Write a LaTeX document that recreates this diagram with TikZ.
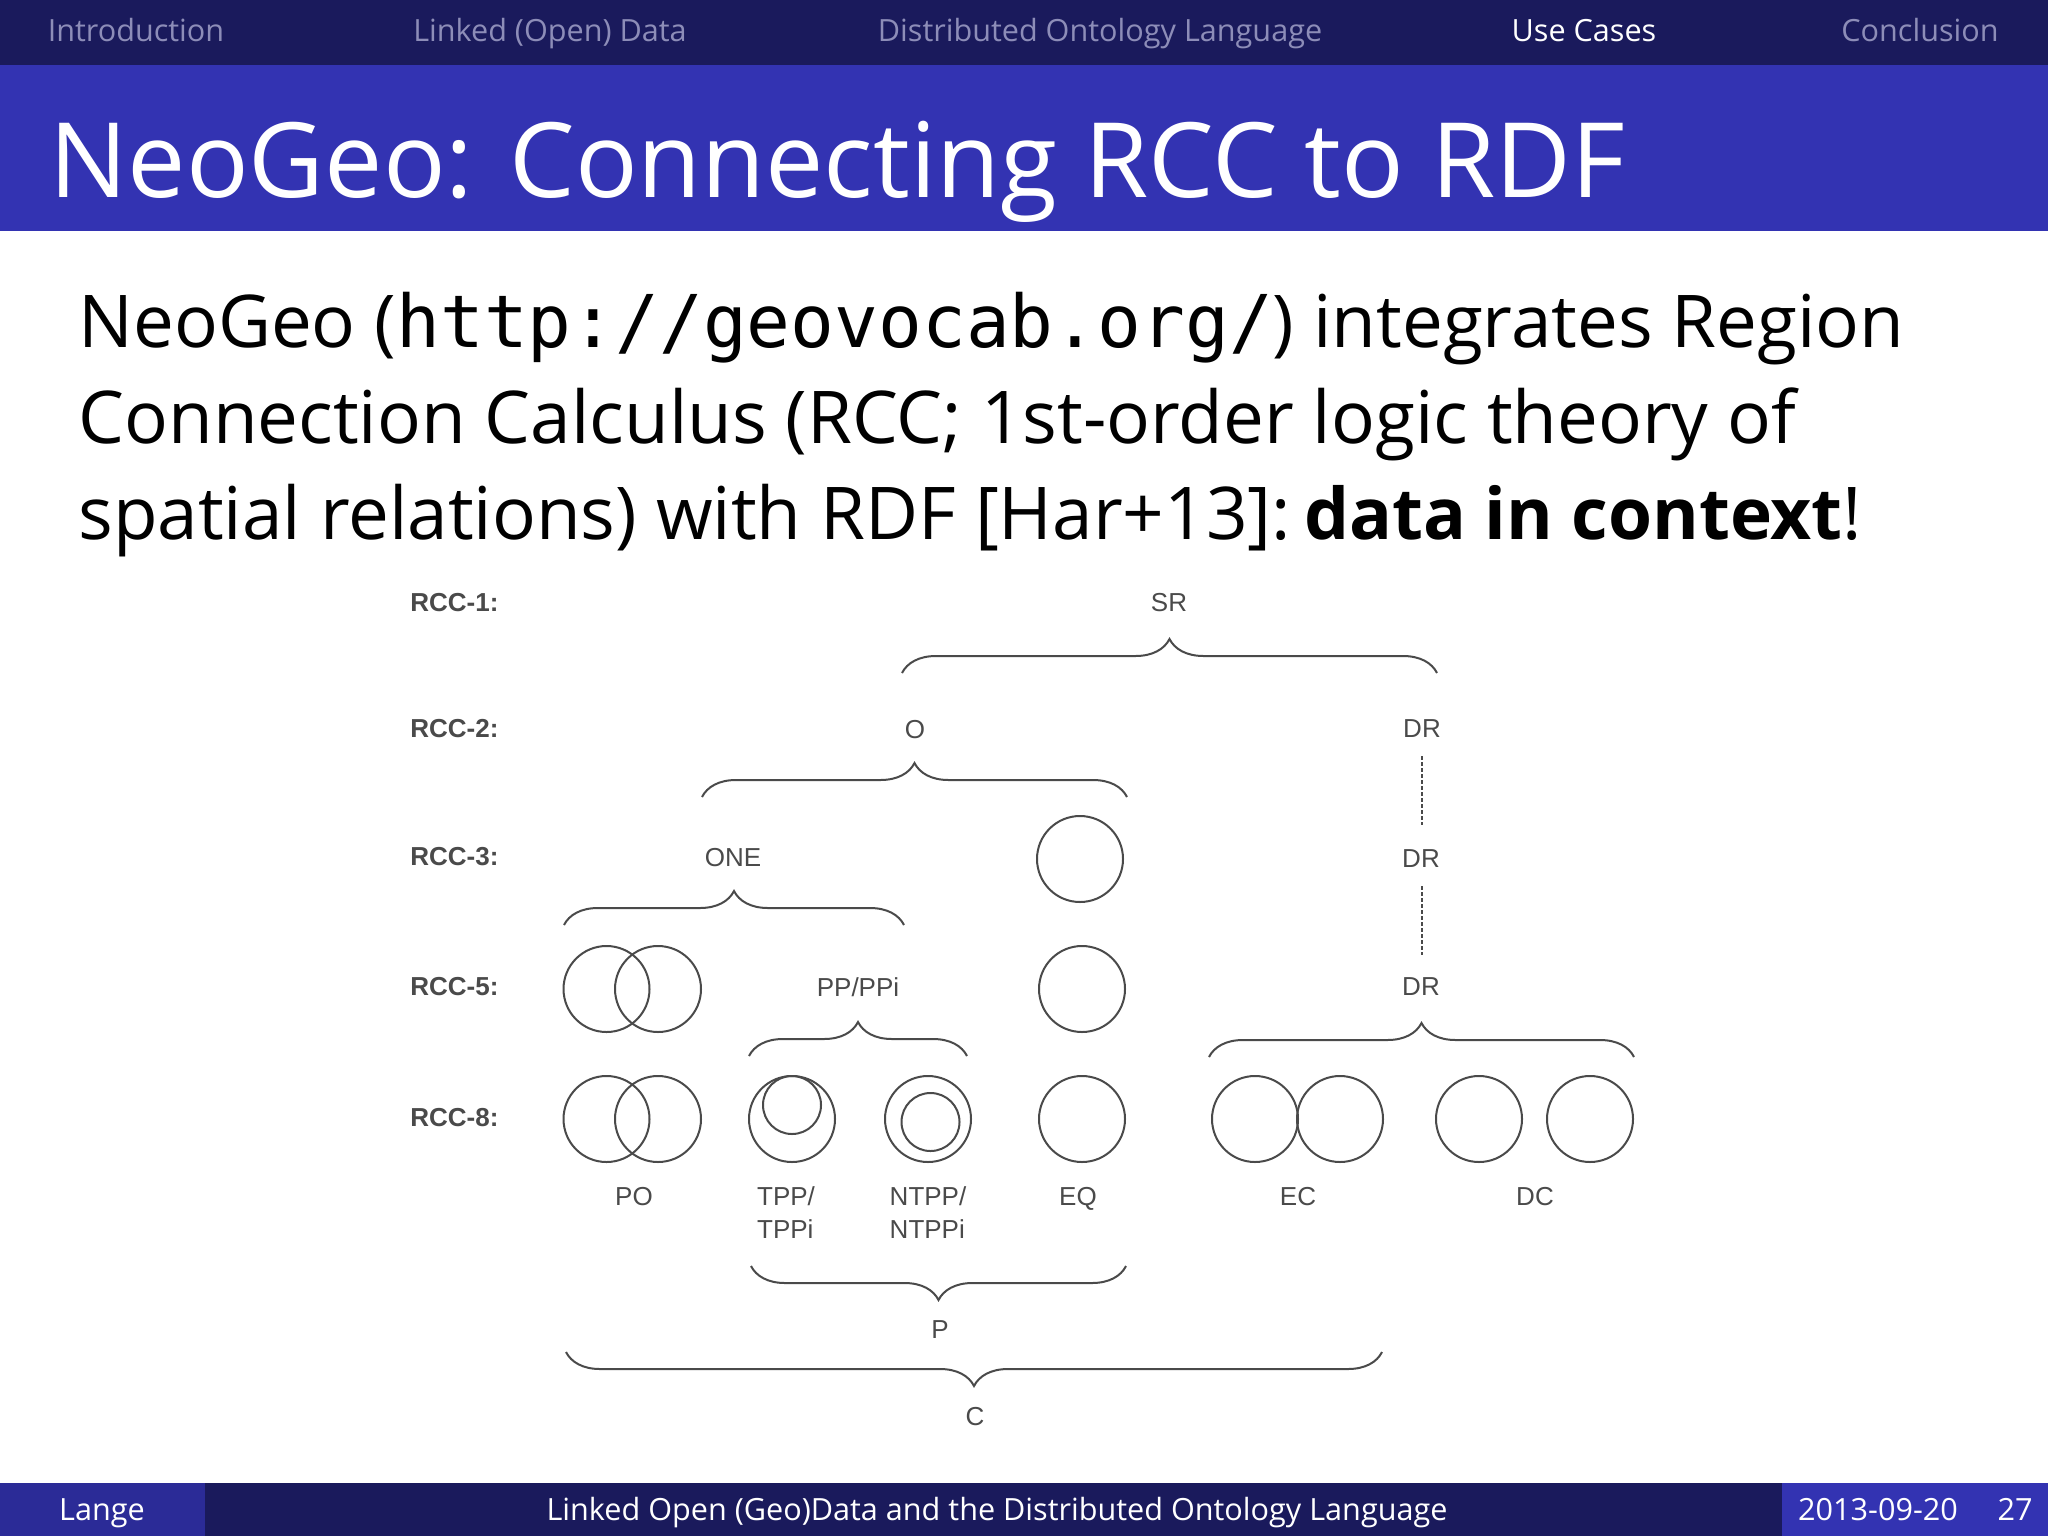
\documentclass[tikz,border=0pt]{standalone}
\usepackage{fontspec}
\setmainfont{Open Sans}
\setmonofont{DejaVu Sans Mono}
\newfontfamily\figfont{Liberation Sans}
\usetikzlibrary{decorations.pathreplacing}
\definecolor{navbar}{HTML}{1A1A5C}
\definecolor{titlebar}{HTML}{3333B2}
\definecolor{navdim}{HTML}{8D8DB8}
\definecolor{figline}{HTML}{4A4A4A}
\tikzset{
  navlabel/.style={text=navdim,font=\fontsize{15.3}{18}\selectfont,anchor=base,inner sep=0pt},
  footlabel/.style={text=white,font=\fontsize{15.3}{18}\selectfont,anchor=base,inner sep=0pt},
  bodyline/.style={font=\fontsize{36.4}{40}\selectfont,anchor=base west,inner sep=0pt},
  rcclabel/.style={font=\figfont\bfseries\fontsize{13}{15}\selectfont,text=figline,anchor=west,inner sep=0pt},
  rellabel/.style={font=\figfont\fontsize{13}{15}\selectfont,text=figline,inner sep=0pt},
  region/.style={draw=figline,line width=1pt},
  relbrace/.style={draw=figline,line width=1pt,decorate,decoration={brace,amplitude=17pt,aspect=0.5}},
}
\begin{document}
\begin{tikzpicture}[x=0.5pt,y=-0.5pt]
  \useasboundingbox (0,0) rectangle (2048,1536);
  % slide frame
  \fill[white] (0,0) rectangle (2048,1536);
  \fill[navbar] (0,0) rectangle (2048,65);
  \fill[titlebar] (0,65) rectangle (2048,231);
  \fill[navbar] (0,1483) rectangle (2048,1536);
  \fill[titlebar!85!black] (0,1483) rectangle (205,1536);
  \fill[titlebar] (1782,1483) rectangle (2048,1536);
  % navigation
  \node[navlabel] (navintro) at (136,42) {Introduction};
  \node[navlabel] (navdata) at (550,42) {Linked (Open) Data};
  \node[navlabel] (navlang) at (1100,42) {Distributed Ontology Language};
  \node[navlabel,text=white] (navuse) at (1584,42) {Use Cases};
  \node[navlabel] (navend) at (1920,42) {Conclusion};
  \node[anchor=base west,inner sep=0pt,text=white,font=\fontsize{52}{60}\selectfont] (title) at (49,197) {NeoGeo: Connecting RCC to RDF};
  % text
  \node[bodyline] (lineone) at (78,347) {NeoGeo (\texttt{http://geovocab.org/}) integrates Region};
  \node[bodyline] (linetwo) at (78,443) {Connection Calculus (RCC; 1st-order logic theory of};
  \node[bodyline] (linethree) at (78,539) {spatial relations) with RDF [Har+13]: \hspace{-6pt}{\fontsize{35.6}{40}\selectfont\textbf{data in context}}!};
  % levels
  \node[rcclabel] (rccone) at (410,603) {RCC-1:};
  \node[rcclabel] (rcctwo) at (410,729) {RCC-2:};
  \node[rcclabel] (rccthree) at (410,857) {RCC-3:};
  \node[rcclabel] (rccfive) at (410,987) {RCC-5:};
  \node[rcclabel] (rcceight) at (410,1118) {RCC-8:};
  % relations
  \node[rellabel] (sr) at (1169,603) {SR};
  \node[rellabel] (o) at (915,730) {O};
  \node[rellabel] (drtwo) at (1422,729) {DR};
  \node[rellabel] (one) at (733,858) {ONE};
  \node[rellabel] (drthree) at (1421,859) {DR};
  \node[rellabel] (pp) at (858,987) {PP/PPi};
  \node[rellabel] (drfive) at (1421,987) {DR};
  \node[rellabel] (po) at (634,1197) {PO};
  \node[rellabel,anchor=north,align=left] (tpp) at (786,1186) {TPP/\\[1.5pt]TPPi};
  \node[rellabel,anchor=north,align=left] (ntpp) at (928,1186) {NTPP/\\[1.5pt]NTPPi};
  \node[rellabel] (eq) at (1078,1199) {EQ};
  \node[rellabel] (ec) at (1298,1197) {EC};
  \node[rellabel] (dc) at (1535,1197) {DC};
  \node[rellabel] (p) at (940,1330) {P};
  \node[rellabel] (c) at (975,1417) {C};
  % circles
  \draw[region] (1080,859) circle (43);
  \draw[region] (606.5,989) circle (43);
  \draw[region] (658,989) circle (43);
  \draw[region] (1082,989) circle (43);
  \draw[region] (606.5,1119) circle (43);
  \draw[region] (658,1119) circle (43);
  \draw[region] (792,1119) circle (43);
  \draw[region] (792,1105) circle (29);
  \draw[region] (928,1119) circle (43);
  \draw[region] (930.5,1122) circle (29);
  \draw[region] (1082,1119) circle (43);
  \draw[region] (1255,1119) circle (43);
  \draw[region] (1340,1119) circle (43);
  \draw[region] (1479,1119) circle (43);
  \draw[region] (1590,1119) circle (43);
  % braces
  \draw[relbrace] (902,673) -- (1437,673);
  \draw[relbrace] (702,797) -- (1127,797);
  \draw[relbrace] (564,925) -- (904,925);
  \draw[relbrace] (749,1056) -- (967,1056);
  \draw[relbrace] (1209,1057) -- (1634,1057);
  \draw[relbrace] (1126,1266) -- (751,1266);
  \draw[relbrace] (1382,1352) -- (566,1352);
  % dotted links
  \draw[figline,line width=0.6pt,dash pattern=on 2pt off 1pt] (drtwo.south) ++(0,18) -- ++(0,69);
  \draw[figline,line width=0.6pt,dash pattern=on 2pt off 1pt] (drthree.south) ++(1,18) -- ++(0,69);
  % footer
  \node[footlabel] (author) at (102,1520) {Lange};
  \node[footlabel] (talk) at (997,1520) {Linked Open (Geo)Data and the Distributed Ontology Language};
  \node[footlabel] (date) at (1878,1520) {2013-09-20};
  \node[footlabel] (page) at (2015,1520) {27};
\end{tikzpicture}
\end{document}
